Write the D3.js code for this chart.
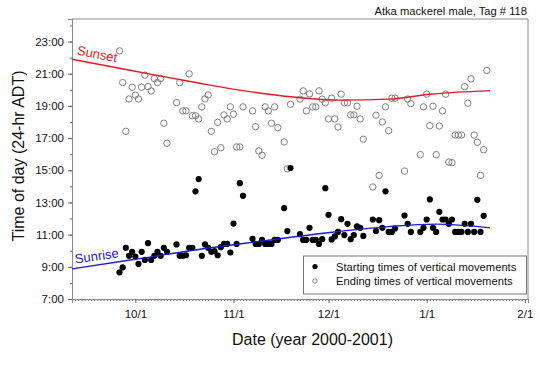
<!DOCTYPE html>
<html>
<head>
<meta charset="utf-8">
<script src="https://cdn.jsdelivr.net/npm/d3@7"></script>
<style>
  html, body { margin: 0; padding: 0; background: #fff; }
  svg { display: block; font-family: "Liberation Sans", Arial, sans-serif; }
</style>
</head>
<body>
<svg id="chart" width="540" height="368"></svg>
<script>
// Days are counted from 1 Oct 2000, times are decimal hours (ADT)
const START_DAYS = [-5, -4, -3, -2, -1, 0, 1, 2, 3, 4, 5, 6, 7, 8, 9, 10,
  13, 14, 15, 16, 17, 18, 19, 20, 21, 22, 23, 24, 25, 26, 27, 28, 29, 30, 31, 32, 33, 34,
  37, 38, 39, 40, 41, 42, 43, 44, 45, 47, 48, 49,
  52, 53, 54, 55, 56, 57, 58, 59, 60, 61, 62, 63, 64, 65, 66, 67, 68, 69, 70, 71, 72,
  75, 76, 77, 78, 79, 80, 81, 82, 85, 86, 87,
  90, 91, 92, 93, 94, 95, 96, 97, 98, 99, 100, 101, 102, 103, 104, 105, 106, 107, 108, 109, 110];
const START_TIMES = [8.66, 8.96, 10.18, 9.68, 9.93, 9.64, 9.18, 9.93, 9.43, 10.47, 9.43, 9.68, 9.93, 9.68, 10.18, 9.93,
  10.39, 9.68, 9.68, 9.72, 10.18, 10.18, 13.69, 14.45, 9.68, 10.39, 10.18, 9.93, 9.97, 9.72, 10.22, 10.42, 10.42, 9.89, 11.69, 10.42, 14.2, 13.41,
  10.74, 10.42, 10.42, 10.67, 10.42, 10.42, 10.42, 10.67, 10.67, 12.65, 11.22, 15.14,
  11.03, 10.67, 10.67, 11.42, 10.67, 10.67, 10.42, 10.72, 13.89, 12.23, 10.7, 10.89, 11.17, 11.96, 10.97, 11.67, 10.72, 10.97, 11.51, 11.42, 10.92,
  11.94, 11.22, 11.9, 11.42, 13.69, 11.17, 11.17, 11.38, 12.19, 11.67, 11.17,
  11.17, 11.42, 11.94, 13.19, 11.42, 11.17, 12.42, 11.94, 11.94, 11.67, 11.94, 11.17, 11.17, 11.17, 11.67, 11.17, 11.67, 11.17, 13.16, 11.17, 12.17];

const END_DAYS = [-5, -4, -3, -2, -1, 0, 1, 2, 3, 4, 5, 6, 7, 8, 9, 10,
  13, 14, 15, 16, 17, 18, 19, 20, 21, 22, 23, 24, 25, 26, 27, 28, 29, 30, 31, 32, 33, 34,
  37, 38, 39, 40, 41, 42, 43, 44, 45, 47, 48, 49,
  52, 53, 54, 55, 56, 57, 58, 59, 60, 61, 62, 63, 64, 65, 66, 67, 68, 69, 70, 71, 72,
  75, 76, 77, 78, 79, 80, 81, 82, 85, 86, 87,
  90, 91, 92, 93, 94, 95, 96, 97, 98, 99, 100, 101, 102, 103, 104, 105, 106, 107, 108, 109, 110, 111];
const END_TIMES = [22.42, 20.45, 17.42, 19.43, 20.16, 19.67, 19.43, 20.16, 20.91, 20.2, 19.93, 20.7, 20.45, 20.7, 17.92, 16.68,
  19.2, 20.45, 18.69, 18.69, 20.99, 18.39, 18.39, 18.19, 18.94, 19.43, 19.68, 17.42, 16.15, 17.98, 16.4, 18.44, 18.19, 18.94, 18.48, 16.45, 16.45, 18.94,
  18.69, 17.71, 16.2, 15.93, 18.94, 18.69, 17.92, 18.94, 17.65, 16.76, 15.09, 19.1,
  19.42, 19.93, 18.69, 19.75, 18.94, 18.94, 19.93, 19.42, 19.19, 18.19, 19.48, 18.19, 17.69, 19.73, 19.19, 19.19, 18.44, 18.44, 18.98, 18.19, 16.93,
  13.96, 18.42, 14.68, 18.0, 18.94, 17.46, 19.48, 19.48, 14.95, 19.43, 19.14,
  15.97, 18.94, 19.73, 17.77, 18.98, 15.97, 17.75, 18.69, 19.73, 15.51, 15.47, 17.19, 17.19, 17.19, 20.2, 19.17, 20.68, 17.19, 16.74, 14.68, 16.28, 21.2];

const SUNSET_DAYS = [-20, 0, 20, 35, 50, 65, 80, 93, 112];
const SUNSET_TIMES = [21.9, 21.15, 20.42, 19.92, 19.55, 19.36, 19.42, 19.72, 19.95];
const SUNRISE_DAYS = [-20, 0, 20, 40, 60, 80, 95, 112];
const SUNRISE_TIMES = [8.87, 9.47, 10.08, 10.6, 11.1, 11.5, 11.65, 11.42];

const Y_TICKS = [7, 9, 11, 13, 15, 17, 19, 21, 23];
const Y_MINOR = [7, 8, 9, 10, 11, 12, 13, 14, 15, 16, 17, 18, 19, 20, 21, 22, 23, 24];
const X_TICK_DAYS = [0, 31, 61, 92, 123];   // 10/1, 11/1, 12/1, 1/1, 2/1
const X_RANGE_DAYS = [-20, 124];
const Y_RANGE = [7, 24.4];

const TITLE = 'Atka mackerel male, Tag # 118';
const LEGEND = ['Starting times of vertical movements', 'Ending times of vertical movements'];

const M = { top: 19, right: 12, bottom: 69, left: 72 };
const W = 540, H = 368;
const RED = '#e01b24';
const BLUE = '#1b1bcf';
const AXIS = '#8a8a8a';
const ORIGIN = new Date(2000, 9, 1);
const day = d => d3.timeDay.offset(ORIGIN, d);

const svg = d3.select('#chart');

const x = d3.scaleTime()
  .domain(X_RANGE_DAYS.map(day))
  .range([M.left, W - M.right]);
const y = d3.scaleLinear()
  .domain(Y_RANGE)
  .range([H - M.bottom, M.top]);

// frame (top / right)
svg.append('path')
  .attr('d', `M${M.left},${M.top}H${W - M.right}V${H - M.bottom}`)
  .attr('fill', 'none').attr('stroke', AXIS).attr('stroke-width', 1);

// Axes
const yMinor = svg.append('g')
  .attr('transform', `translate(${M.left},0)`)
  .call(d3.axisLeft(y).tickValues(Y_MINOR).tickSize(2).tickFormat(''));
const yAxis = svg.append('g')
  .attr('transform', `translate(${M.left},0)`)
  .call(d3.axisLeft(y).tickValues(Y_TICKS).tickSize(4).tickPadding(4).tickFormat(h => `${h}:00`));

const xMinor = svg.append('g')
  .attr('transform', `translate(0,${H - M.bottom})`)
  .call(d3.axisBottom(x).ticks(d3.timeDay).tickSize(2).tickFormat(''));
const xAxis = svg.append('g')
  .attr('transform', `translate(0,${H - M.bottom})`)
  .call(d3.axisBottom(x).tickValues(X_TICK_DAYS.map(day)).tickSize(4).tickPadding(7)
    .tickFormat(d3.timeFormat('%-m/%-d')));

[yMinor, yAxis, xMinor, xAxis].forEach(g => {
  g.select('.domain').attr('stroke', AXIS);
  g.selectAll('.tick line').attr('stroke', '#666');
  g.selectAll('text')
    .attr('font-size', 11.5).attr('font-family', 'inherit').attr('fill', '#111');
});
xMinor.select('.domain').attr('stroke', '#bbb');

// Points
const ends = END_DAYS.map((d, i) => ({ d, t: END_TIMES[i] }));
const starts = START_DAYS.map((d, i) => ({ d, t: START_TIMES[i] }));

svg.append('g').selectAll('circle')
  .data(ends)
  .join('circle')
  .attr('cx', p => x(day(p.d)))
  .attr('cy', p => y(p.t))
  .attr('r', 3.2)
  .attr('fill', 'none')
  .attr('stroke', '#7f7f7f')
  .attr('stroke-width', 1);

svg.append('g').selectAll('circle')
  .data(starts)
  .join('circle')
  .attr('cx', p => x(day(p.d)))
  .attr('cy', p => y(p.t))
  .attr('r', 3.1)
  .attr('fill', '#000');

// Sunset / sunrise curves
const line = d3.line()
  .x(p => x(day(p[0])))
  .y(p => y(p[1]))
  .curve(d3.curveMonotoneX);

svg.append('path')
  .attr('d', line(SUNSET_DAYS.map((d, i) => [d, SUNSET_TIMES[i]])))
  .attr('fill', 'none').attr('stroke', RED).attr('stroke-width', 1.4);
svg.append('path')
  .attr('d', line(SUNRISE_DAYS.map((d, i) => [d, SUNRISE_TIMES[i]])))
  .attr('fill', 'none').attr('stroke', BLUE).attr('stroke-width', 1.4);

svg.append('text')
  .attr('transform', 'translate(76.5,54.5) rotate(11)')
  .attr('fill', RED).attr('font-size', 13)
  .text('Sunset');
svg.append('text')
  .attr('transform', 'translate(75.5,263.5) rotate(-8)')
  .attr('fill', BLUE).attr('font-size', 13)
  .text('Sunrise');

// Legend
const lg = svg.append('g').attr('transform', 'translate(303.5,256)');
lg.append('rect')
  .attr('width', 223).attr('height', 38)
  .attr('fill', '#fff').attr('stroke', '#777').attr('stroke-width', 1);
lg.append('circle').attr('cx', 11.5).attr('cy', 10.5).attr('r', 2.6).attr('fill', '#000');
lg.append('circle').attr('cx', 11.5).attr('cy', 25).attr('r', 2.2)
  .attr('fill', 'none').attr('stroke', '#7f7f7f').attr('stroke-width', 1);
lg.selectAll('text.item')
  .data(LEGEND)
  .join('text')
  .attr('class', 'item')
  .attr('x', 32.5)
  .attr('y', (_, i) => 14.5 + i * 14.5)
  .attr('font-size', 11.2).attr('fill', '#111')
  .text(d => d);

// Titles
svg.append('text')
  .attr('x', 527).attr('y', 15)
  .attr('text-anchor', 'end')
  .attr('font-size', 11.2).attr('fill', '#111')
  .text(TITLE);

svg.append('text')
  .attr('x', 312.5).attr('y', 344.5)
  .attr('text-anchor', 'middle')
  .attr('font-size', 16).attr('fill', '#111')
  .text('Date (year 2000-2001)');

svg.append('text')
  .attr('transform', 'translate(23.5,156) rotate(-90)')
  .attr('text-anchor', 'middle')
  .attr('font-size', 16).attr('fill', '#111')
  .text('Time of day (24-hr ADT)');
</script>
</body>
</html>
